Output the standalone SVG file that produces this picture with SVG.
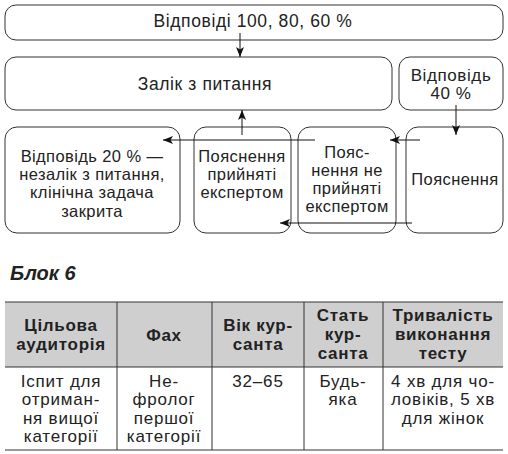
<svg xmlns="http://www.w3.org/2000/svg" width="508" height="454" viewBox="0 0 508 454">
<style>
.box{fill:#fff;stroke:#333;stroke-width:1}
.t{font-family:"Liberation Sans",Arial,sans-serif;font-size:16.5px;letter-spacing:0.4px;fill:#222;text-anchor:middle}
.big{font-size:17.5px;letter-spacing:0.6px}
.mid{font-size:17px;letter-spacing:0.6px}
.tb{font-family:"Liberation Sans",Arial,sans-serif;font-size:17px;letter-spacing:0.7px;font-weight:bold;fill:#222;text-anchor:middle}
.tt{font-size:17px;letter-spacing:0.8px}
.ln{stroke:#111;stroke-width:1;fill:none}
.grid{stroke:#333;stroke-width:1;fill:none}
</style>
<defs>
<marker id="ah" viewBox="0 0 10 8" refX="10" refY="4" markerWidth="10" markerHeight="8" markerUnits="userSpaceOnUse" orient="auto">
<path d="M0,0 L10,4 L0,8 L2.5,4 z" fill="#111"/>
</marker>
</defs>
<rect width="508" height="454" fill="#fff"/>
<g id="n-top"><rect class="box" x="5" y="5" width="498" height="35" rx="11"/><text class="t big" x="253" y="27">Відповіді 100, 80, 60 %</text></g>
<g id="n-zalik"><rect class="box" x="5" y="57" width="387" height="53" rx="11"/><text class="t big" x="205" y="90">Залік з питання</text></g>
<g id="n-v40"><rect class="box" x="399" y="57" width="104" height="53" rx="11"/><text class="t mid" x="451" y="81">Відповідь</text><text class="t mid" x="451" y="99">40 %</text></g>
<g id="n-v20"><rect class="box" x="5" y="127" width="175" height="106" rx="12"/><text class="t" x="92" y="162">Відповідь 20 % —</text><text class="t" x="92" y="180">незалік з питання,</text><text class="t" x="92" y="198">клінічна задача</text><text class="t" x="92" y="217">закрита</text></g>
<g id="n-pp"><rect class="box" x="194" y="127" width="97" height="106" rx="12"/><text class="t" x="242" y="162">Пояснення</text><text class="t" x="242" y="180">прийняті</text><text class="t" x="242" y="198">експертом</text></g>
<g id="n-pnp"><rect class="box" x="298" y="127" width="98" height="106" rx="12"/><text class="t" x="347" y="158">Пояс-</text><text class="t" x="347" y="176">нення не</text><text class="t" x="347" y="194">прийняті</text><text class="t" x="347" y="212">експертом</text></g>
<g id="n-p"><rect class="box" x="406" y="127" width="97" height="106" rx="12"/><text class="t" x="455" y="185">Пояснення</text></g>
<g id="connectors">
<line class="ln" x1="240" y1="33" x2="240" y2="57" marker-end="url(#ah)"/>
<line class="ln" x1="456" y1="105" x2="456" y2="135" marker-end="url(#ah)"/>
<line class="ln" x1="242" y1="135" x2="242" y2="110" marker-end="url(#ah)"/>
<line class="ln" x1="315" y1="140" x2="163" y2="140" marker-end="url(#ah)"/>
<line class="ln" x1="420" y1="140" x2="390" y2="140" marker-end="url(#ah)"/>
<line class="ln" x1="412" y1="223" x2="280" y2="223" marker-end="url(#ah)"/>
</g>
<text x="10" y="280" font-family="Liberation Sans,Arial,sans-serif" font-size="20" font-weight="bold" font-style="italic" fill="#222">Блок 6</text>
<g id="table">
<rect x="5" y="302" width="498" height="65" fill="#cfcfcf"/>
<line class="grid" x1="5" y1="302" x2="503" y2="302"/>
<line class="grid" x1="5" y1="367" x2="503" y2="367"/>
<line class="grid" x1="5" y1="450" x2="503" y2="450"/>
<line class="grid" x1="117" y1="302" x2="117" y2="450"/>
<line class="grid" x1="212" y1="302" x2="212" y2="450"/>
<line class="grid" x1="304" y1="302" x2="304" y2="450"/>
<line class="grid" x1="383" y1="302" x2="383" y2="450"/>
<text class="tb" x="61" y="331">Цільова</text><text class="tb" x="61" y="350">аудиторія</text>
<text class="tb" x="164" y="341">Фах</text>
<text class="tb" x="258" y="331">Вік кур-</text><text class="tb" x="258" y="350">санта</text>
<text class="tb" x="343" y="321">Стать</text><text class="tb" x="343" y="340">кур-</text><text class="tb" x="343" y="359">санта</text>
<text class="tb" x="443" y="321">Тривалість</text><text class="tb" x="443" y="340">виконання</text><text class="tb" x="443" y="359">тесту</text>
<text class="t tt" x="61" y="387">Іспит для</text><text class="t tt" x="61" y="405">отриман-</text><text class="t tt" x="61" y="424">ня вищої</text><text class="t tt" x="61" y="442">категорії</text>
<text class="t tt" x="164" y="387">Не-</text><text class="t tt" x="164" y="405">фролог</text><text class="t tt" x="164" y="424">першої</text><text class="t tt" x="164" y="442">категорії</text>
<text class="t tt" x="258" y="387">32–65</text>
<text class="t tt" x="343" y="387">Будь-</text><text class="t tt" x="343" y="405">яка</text>
<text class="t tt" x="443" y="387">4 хв для чо-</text><text class="t tt" x="443" y="405">ловіків, 5 хв</text><text class="t tt" x="443" y="424">для жінок</text>
</g>
</svg>
